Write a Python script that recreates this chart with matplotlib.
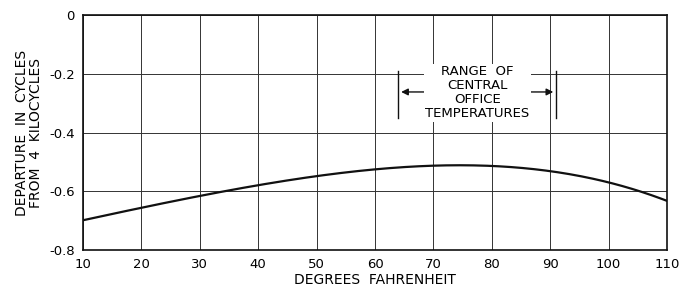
import matplotlib.pyplot as plt
import numpy as np

temps = [10, 20, 30, 40, 50, 60, 70, 75, 80, 90, 100, 110]
departure = [-0.70, -0.655, -0.613, -0.580, -0.552, -0.530, -0.512, -0.507, -0.508, -0.535, -0.575, -0.630]
range_lo, range_hi = 64, 91
xticks = list(range(10, 111, 10))
yticks = [0, -0.2, -0.4, -0.6, -0.8]
ytick_labels = ['0', '-0.2', '-0.4', '-0.6', '-0.8']

plt.rcParams['font.family'] = ['DejaVu Sans']
fig = plt.figure(figsize=(6.8, 2.91), dpi=100)
ax = fig.add_axes([83/680, 41/291, 584/680, 235/291])

# smooth curve through the read points
xs = np.linspace(10, 110, 300)
coef = np.polyfit(temps, departure, 4)
ax.plot(xs, np.polyval(coef, xs), color='#111111', lw=1.6)

ax.set_xlim(10, 110)
ax.set_ylim(-0.8, 0)
ax.set_xticks(xticks)
ax.set_yticks(yticks)
ax.set_yticklabels(ytick_labels)
ax.grid(True, color='#333333', lw=0.7)
ax.tick_params(length=0, labelsize=9.5, pad=6)
for s in ax.spines.values():
    s.set_linewidth(1.2)
    s.set_color('#111111')
ax.set_xlabel('DEGREES  FAHRENHEIT', fontsize=10, labelpad=1)
ax.set_ylabel('DEPARTURE  IN  CYCLES\nFROM  4  KILOCYCLES', fontsize=10,
              labelpad=4, linespacing=1.0)

# range of central office temperatures
for x in (range_lo, range_hi):
    ax.plot([x, x], [-0.19, -0.35], color='#111111', lw=1.0, zorder=4)
ax.text(77.5, -0.265, 'RANGE  OF\nCENTRAL\nOFFICE\nTEMPERATURES', ha='center', va='center',
        fontsize=9.5, linespacing=1.1, zorder=5,
        bbox=dict(facecolor='white', edgecolor='none', pad=1))
ax.annotate('', xy=(range_lo, -0.262), xytext=(69, -0.262),
            arrowprops=dict(arrowstyle='-|>', color='#111111', lw=1.0, mutation_scale=10), zorder=4)
ax.annotate('', xy=(range_hi, -0.262), xytext=(85.5, -0.262),
            arrowprops=dict(arrowstyle='-|>', color='#111111', lw=1.0, mutation_scale=10), zorder=4)

fig.savefig('out.png', dpi=100)
